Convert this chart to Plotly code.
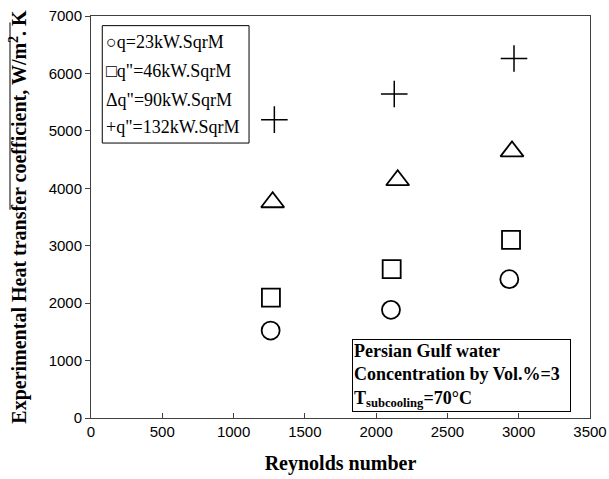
import plotly.graph_objects as go

# Data
re_q23 = [1260, 2104, 2934]
h_q23 = [1522, 1883, 2418]
re_q46 = [1262, 2109, 2946]
h_q46 = [2097, 2592, 3103]
re_q90 = [1274, 2151, 2953]
h_q90 = [3757, 4141, 4643]
re_q132 = [1286, 2127, 2967]
h_q132 = [5195, 5643, 6259]

x_ticks = [0, 500, 1000, 1500, 2000, 2500, 3000, 3500]
y_ticks = [0, 1000, 2000, 3000, 4000, 5000, 6000, 7000]

# legend box (typed text with symbol glyphs, as in the reference)
legend_glyphs = ['○', '□', 'Δ', '+']
legend_labels = ['q=23kW.SqrM', 'q"=46kW.SqrM', 'q"=90kW.SqrM', 'q"=132kW.SqrM']

symbols = ['circle-open', 'square-open', 'triangle-up-open', 'cross-thin-open']
xs = [re_q23, re_q46, re_q90, re_q132]
ys = [h_q23, h_q46, h_q90, h_q132]
sizes = [18, 18, 20, 19]
widths = [1.8, 1.8, 1.8, 1.5]

fig = go.Figure()
for i in range(4):
    fig.add_trace(go.Scatter(
        x=xs[i], y=ys[i], mode='markers', name=legend_labels[i], showlegend=False,
        marker=dict(symbol=symbols[i], size=sizes[i], color='black',
                    line=dict(color='black', width=widths[i])),
    ))

axis_color = '#404040'
fig.update_layout(
    width=609, height=479,
    margin=dict(l=91, r=19, t=16, b=61, autoexpand=False),
    paper_bgcolor='white', plot_bgcolor='white',
    showlegend=False,
    xaxis=dict(range=[0, 3500], tickvals=x_ticks, ticktext=[str(v) for v in x_ticks],
               automargin=False, ticklabeloverflow='allow',
               showgrid=False, zeroline=False, showline=True, linecolor=axis_color,
               linewidth=1, mirror=True, ticks='inside', ticklen=5, tickcolor=axis_color,
               tickfont=dict(family='Liberation Sans', size=15, color='black'),
               title=dict(text='<b>Reynolds number</b>', standoff=16,
                          font=dict(family='Liberation Serif', size=20, color='black'))),
    yaxis=dict(range=[0, 7000], tickvals=y_ticks, ticktext=[str(v) for v in y_ticks],
               automargin=False, ticklabeloverflow='allow',
               showgrid=False, zeroline=False, showline=True, linecolor=axis_color,
               linewidth=1, mirror=True, ticks='outside', ticklen=5, tickcolor=axis_color,
               tickfont=dict(family='Liberation Sans', size=15, color='black'),
               title=dict(text='<b>Experimental Heat transfer coefficient, W/m<sup>2</sup>. K</b>',
                          standoff=16,
                          font=dict(family='Liberation Serif', size=20, color='black'))),
)

# legend box
fig.add_shape(type='rect', xref='paper', yref='paper',
              x0=0.0226, x1=0.3167, y0=0.684, y1=0.976,
              line=dict(color='black', width=1), fillcolor='white', layer='above')
legend_rows_y = [0.935, 0.863, 0.792, 0.724]
for g, lab, yy in zip(legend_glyphs, legend_labels, legend_rows_y):
    fig.add_annotation(xref='paper', yref='paper', x=0.026, y=yy,
                       xanchor='left', yanchor='middle', showarrow=False,
                       text=g + lab,
                       font=dict(family='Liberation Serif', size=18, color='black'))

# condition box
fig.add_annotation(
    xref='paper', yref='paper', x=0.5224, y=0.0157, xanchor='left', yanchor='bottom',
    text='<b>Persian Gulf water<br>Concentration by Vol.%=3<br>T<sub>subcooling</sub>=70°C</b>',
    align='left', showarrow=False, width=215, height=69, borderpad=1,
    bordercolor='black', borderwidth=1, bgcolor='white',
    font=dict(family='Liberation Serif', size=18, color='black'),
)

# overline over part of the y-axis title
fig.add_shape(type='line', xref='paper', yref='paper',
              x0=-0.1623, x1=-0.1623, y0=0.518, y1=0.984,
              line=dict(color='black', width=1))

fig.write_html('out.html', config={'displayModeBar': False},
               post_script="document.body.style.margin='0';")
